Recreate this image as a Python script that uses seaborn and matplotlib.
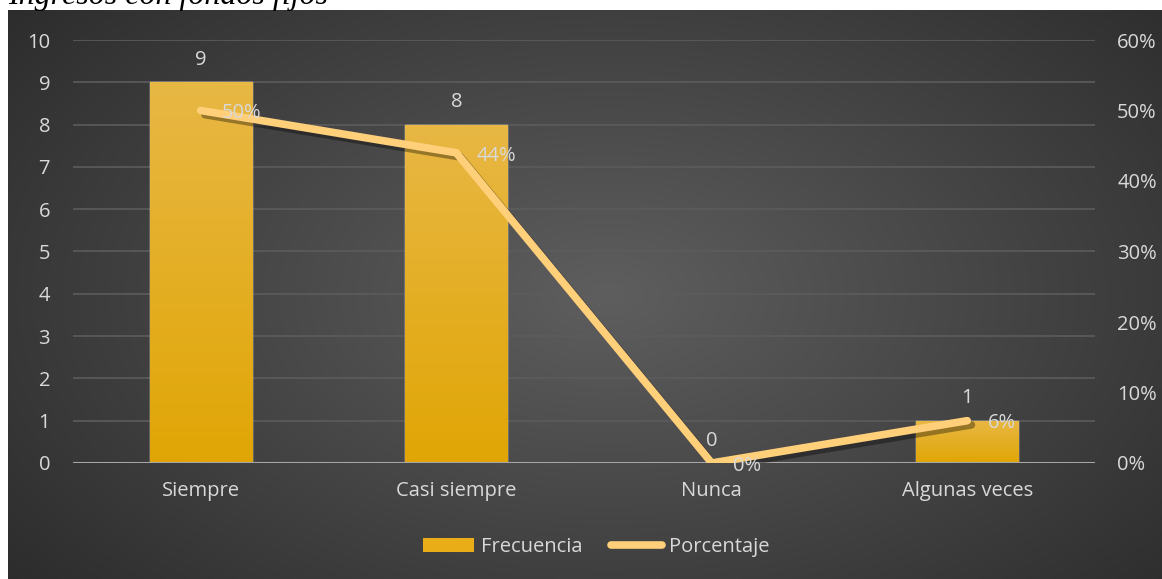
import numpy as np
import pandas as pd
import matplotlib
matplotlib.use("Agg")
import matplotlib.pyplot as plt
import matplotlib.patheffects as pe
from matplotlib.lines import Line2D
from matplotlib.patches import Patch
import seaborn as sns

categorias = ["Siempre", "Casi siempre", "Nunca", "Algunas veces"]
frecuencia = [9, 8, 0, 1]
porcentaje = [50, 44, 0, 6]
ticks_izq = list(range(0, 11))
ticks_der = [0, 10, 20, 30, 40, 50, 60]
titulo = "Ingresos con fondos fijos"

sns.set_theme(style="dark")
plt.rcParams["font.family"] = ["Open Sans", "DejaVu Sans"]

TXT = "#d9d9d9"
BAR = "#e8ad17"
LINE = "#ffcf7a"
FS = 14.5

W, H = 1162, 579
fig = plt.figure(figsize=(W / 100, H / 100), dpi=100)
fig.patch.set_facecolor("white")

# dark radial-gradient panel
bg = fig.add_axes([8 / W, 0, 1 - 8 / W, 1 - 10 / H])
bg.set_axis_off()
yy, xx = np.mgrid[0:1:300j, 0:1:600j]
r = np.sqrt(((xx - 0.52) / 0.75) ** 2 + ((yy - 0.5) / 0.9) ** 2)
shade = 0.37 - 0.22 * np.clip(r, 0, 1)
bg.imshow(np.dstack([shade] * 3), aspect="auto", extent=[0, 1, 0, 1])

fig.text(8 / W, 1 - 4 / H, titulo, fontsize=23, style="italic",
         family="Liberation Serif", color="black", va="baseline", ha="left",
         zorder=0)

df = pd.DataFrame({"categoria": categorias, "frecuencia": frecuencia,
                   "porcentaje": porcentaje})

ax = fig.add_axes([73 / W, 1 - 463 / H, (1095 - 73) / W, (463 - 40) / H])
ax.set_facecolor("none")
sns.barplot(data=df, x="categoria", y="frecuencia", color=BAR, width=0.4,
            saturation=1, ax=ax, zorder=2)
ax.set_xlim(-0.5, 3.5)
ax.set_ylim(0, 10)
ax.set_yticks(ticks_izq)
ax.set_xlabel("")
ax.set_ylabel("")
for s in ax.spines.values():
    s.set_visible(False)
ax.grid(False)
for v in ticks_izq[1:]:
    ax.axhline(v, color="#5c5c5c", lw=1.2, zorder=1)
ax.axhline(0, color="#a6a6a6", lw=1.5, zorder=3)
ax.tick_params(axis="y", colors=TXT, labelsize=FS, length=0, pad=16.5)
ax.tick_params(axis="x", colors=TXT, labelsize=FS, length=0, pad=13)

# vertical gradient inside each bar
grad = np.linspace(0, 1, 256).reshape(-1, 1)
top = np.array([0.91, 0.72, 0.27])
bot = np.array([0.88, 0.65, 0.02])
img = top + (bot - top) * grad[..., None]
for bar in ax.patches:
    x0, y0 = bar.get_x(), bar.get_y()
    w, h = bar.get_width(), bar.get_height()
    if h <= 0:
        continue
    im = ax.imshow(img, extent=[x0, x0 + w, y0, y0 + h], aspect="auto",
                   zorder=2.1)
    im.set_clip_path(bar)
ax.set_xlim(-0.5, 3.5)
ax.set_ylim(0, 10)

for i, v in enumerate(frecuencia):
    ax.annotate(str(v), (i, v), xytext=(0, 9), textcoords="offset points",
                ha="center", va="bottom", color=TXT, fontsize=FS, zorder=6)

ax2 = ax.twinx()
sns.lineplot(data=df, x="categoria", y="porcentaje", sort=False, color=LINE,
             lw=5.5, ax=ax2, zorder=4,
             path_effects=[pe.SimpleLineShadow(offset=(3, -3), shadow_color="black",
                                               alpha=0.35),
                           pe.Normal()])
ax2.lines[0].set_solid_capstyle("round")
ax2.lines[0].set_solid_joinstyle("miter")
ax2.set_ylim(0, 60)
ax2.set_yticks(ticks_der)
ax2.set_yticklabels([f"{t}%" for t in ticks_der])
ax2.set_ylabel("")
ax2.grid(False)
for s in ax2.spines.values():
    s.set_visible(False)
ax2.tick_params(axis="y", colors=TXT, labelsize=FS, length=0, pad=16)
for i, v in enumerate(porcentaje):
    ax2.annotate(f"{v}%", (i, v), xytext=(15, -2), textcoords="offset points",
                 ha="left", va="center", color=TXT, fontsize=FS, zorder=6)
if ax2.get_legend():
    ax2.get_legend().remove()

handles = [Patch(facecolor=BAR, edgecolor="none"),
           Line2D([0], [0], color=LINE, lw=5.5, solid_capstyle="round")]
leg = fig.legend(handles, ["Frecuencia", "Porcentaje"], loc="center",
                 bbox_to_anchor=(596 / W, 1 - 547 / H), ncol=2, frameon=False,
                 fontsize=FS, labelcolor=TXT, handlelength=2.55,
                 handletextpad=0.35, columnspacing=1.4)

fig.savefig("out.png", dpi=100, facecolor=fig.get_facecolor())
